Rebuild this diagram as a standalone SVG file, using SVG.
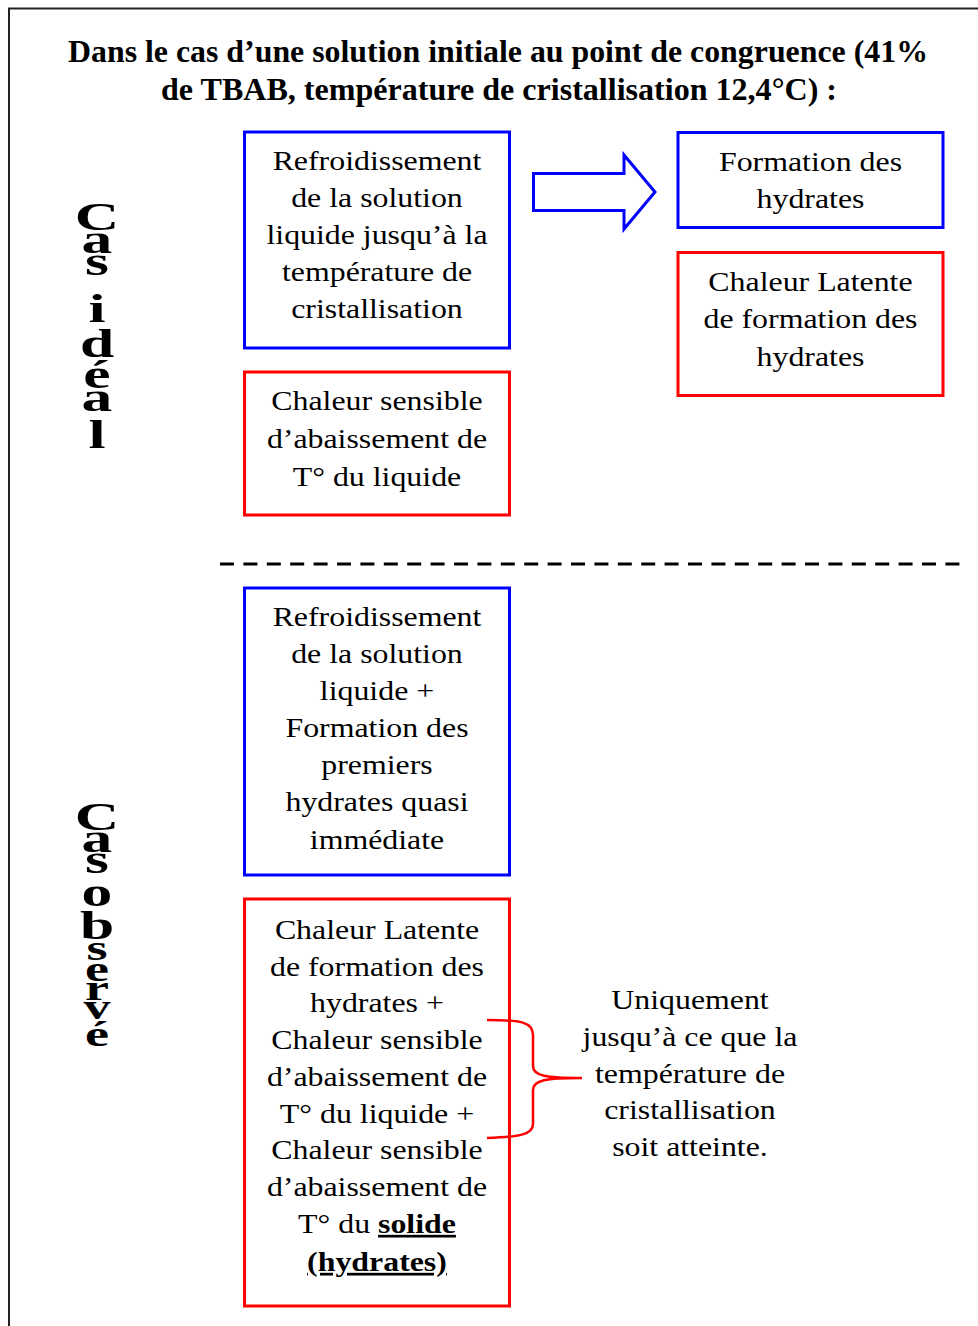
<svg xmlns="http://www.w3.org/2000/svg" width="978" height="1326" viewBox="0 0 978 1326">
<style>
.t{font-family:"Liberation Serif","Times New Roman",serif;font-size:27px;fill:#000;text-anchor:middle}
.title{font-family:"Liberation Serif","Times New Roman",serif;font-size:32px;font-weight:bold;fill:#000;text-anchor:middle}
.v{font-family:"Liberation Serif","Times New Roman",serif;font-size:41px;font-weight:bold;fill:#000;text-anchor:middle}
.vs{font-size:36px}
.blue{fill:#fff;stroke:#0000ff;stroke-width:3}
.red{fill:#fff;stroke:#ff0000;stroke-width:3}
.b{font-weight:bold;text-decoration:underline}
</style>
<rect width="978" height="1326" fill="#fff"/>
<g id="frame">
<path d="M9,1326 L9,8.5 L978,8.5" fill="none" stroke="#222" stroke-width="2"/>
</g>
<g id="title">
<text class="title" x="498" y="62" textLength="860" lengthAdjust="spacingAndGlyphs">Dans le cas d’une solution initiale au point de congruence (41%</text>
<text class="title" x="499" y="100" textLength="676" lengthAdjust="spacingAndGlyphs">de TBAB, température de cristallisation 12,4°C) :</text>
</g>
<g id="label-ideal" transform="matrix(1.5,0,0,1,-48.5,0)">
<text class="v" x="97" y="230">C</text>
<text class="v" x="97" y="253">a</text>
<text class="v" x="97" y="275">s</text>
<text class="v" x="97" y="322">i</text>
<text class="v" x="97" y="357">d</text>
<text class="v" x="97" y="388">é</text>
<text class="v" x="97" y="411">a</text>
<text class="v" x="97" y="448">l</text>
</g>
<g id="label-observe" transform="matrix(1.5,0,0,1,-48.5,0)">
<text class="v" x="97" y="830">C</text>
<text class="v" x="97" y="852">a</text>
<text class="v" x="97" y="873">s</text>
<text class="v" x="97" y="906">o</text>
<text class="v" x="97" y="939">b</text>
<text class="v vs" x="97" y="960">s</text>
<text class="v vs" x="97" y="981">e</text>
<text class="v vs" x="97" y="1000">r</text>
<text class="v vs" x="97" y="1019">v</text>
<text class="v vs" x="97" y="1046">é</text>
</g>
<g id="box-refroidissement">
<rect class="blue" x="244.5" y="132" width="265" height="216"/>
<g transform="matrix(1.18,0,0,1,-67.86,0)">
<text class="t" x="377" y="170">Refroidissement</text>
<text class="t" x="377" y="207">de la solution</text>
<text class="t" x="377" y="244">liquide jusqu’à la</text>
<text class="t" x="377" y="281">température de</text>
<text class="t" x="377" y="318">cristallisation</text>
</g>
</g>
<g id="box-chaleur-sensible">
<rect class="red" x="244.5" y="372" width="265" height="143"/>
<g transform="matrix(1.18,0,0,1,-67.86,0)">
<text class="t" x="377" y="410">Chaleur sensible</text>
<text class="t" x="377" y="448">d’abaissement de</text>
<text class="t" x="377" y="486">T° du liquide</text>
</g>
</g>
<g id="box-formation">
<rect class="blue" x="678" y="132.5" width="265" height="95"/>
<g transform="matrix(1.18,0,0,1,-145.89,0)">
<text class="t" x="810.5" y="171">Formation des</text>
<text class="t" x="810.5" y="208">hydrates</text>
</g>
</g>
<g id="box-chaleur-latente">
<rect class="red" x="678" y="252.5" width="265" height="143"/>
<g transform="matrix(1.18,0,0,1,-145.89,0)">
<text class="t" x="810.5" y="291">Chaleur Latente</text>
<text class="t" x="810.5" y="328">de formation des</text>
<text class="t" x="810.5" y="366">hydrates</text>
</g>
</g>
<g id="box-refroidissement-obs">
<rect class="blue" x="244.5" y="588" width="265" height="287"/>
<g transform="matrix(1.18,0,0,1,-67.86,0)">
<text class="t" x="377" y="626">Refroidissement</text>
<text class="t" x="377" y="663">de la solution</text>
<text class="t" x="377" y="700">liquide +</text>
<text class="t" x="377" y="737">Formation des</text>
<text class="t" x="377" y="774">premiers</text>
<text class="t" x="377" y="811">hydrates quasi</text>
<text class="t" x="377" y="849">immédiate</text>
</g>
</g>
<g id="box-chaleur-obs">
<rect class="red" x="244.5" y="899" width="265" height="407"/>
<g transform="matrix(1.18,0,0,1,-67.86,0)">
<text class="t" x="377" y="939">Chaleur Latente</text>
<text class="t" x="377" y="976">de formation des</text>
<text class="t" x="377" y="1012">hydrates +</text>
<text class="t" x="377" y="1049">Chaleur sensible</text>
<text class="t" x="377" y="1086">d’abaissement de</text>
<text class="t" x="377" y="1123">T° du liquide +</text>
<text class="t" x="377" y="1159">Chaleur sensible</text>
<text class="t" x="377" y="1196">d’abaissement de</text>
<text class="t" x="377" y="1233">T° du <tspan class="b">solide</tspan></text>
<text class="t" x="377" y="1271"><tspan class="b">(hydrates)</tspan></text>
</g>
</g>
<g id="note">
<g transform="matrix(1.18,0,0,1,-124.2,0)">
<text class="t" x="690" y="1009">Uniquement</text>
<text class="t" x="690" y="1046">jusqu’à ce que la</text>
<text class="t" x="690" y="1083">température de</text>
<text class="t" x="690" y="1119">cristallisation</text>
<text class="t" x="690" y="1156">soit atteinte.</text>
</g>
</g>
<g id="connectors">
<path id="arrow" d="M533.5,173.5 L624,173.5 L624,155 L655,192 L624,229 L624,210.5 L533.5,210.5 Z" fill="#fff" stroke="#0000ff" stroke-width="3" stroke-linejoin="miter"/>
<path id="divider" d="M220,564 L962,564" fill="none" stroke="#000" stroke-width="3" stroke-dasharray="14 9.4"/>
<path id="brace" d="M487,1020 C521,1020 533,1022 533,1035 L533,1066 C533,1076 546,1078 582,1078 C546,1078 533,1080 533,1090 L533,1124 C533,1134 521,1137 487,1138" fill="none" stroke="#ff0000" stroke-width="2.5"/>
</g>
</svg>
